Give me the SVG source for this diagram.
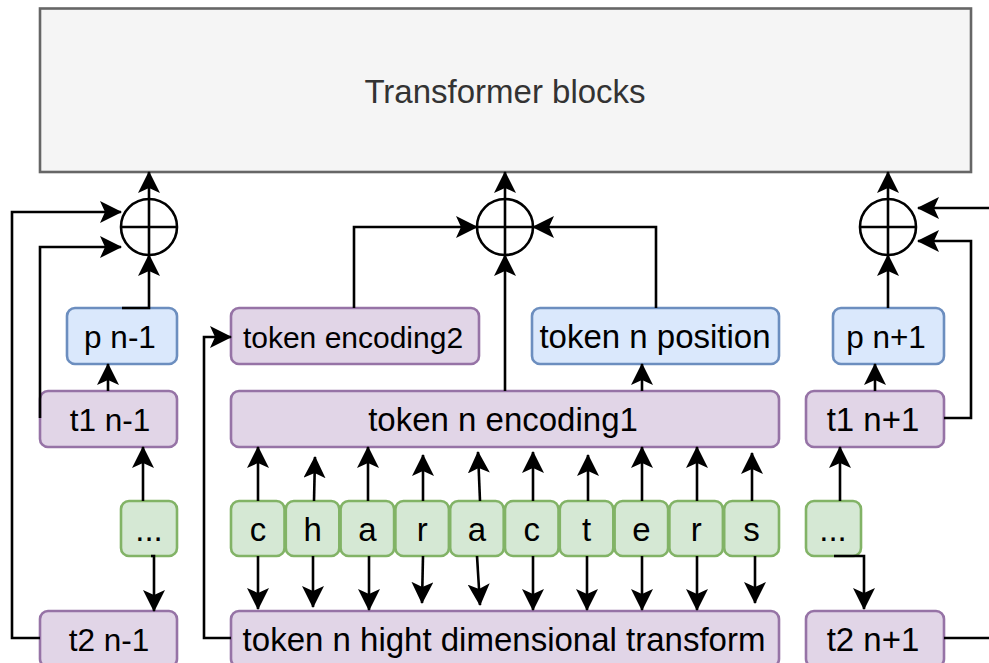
<svg xmlns="http://www.w3.org/2000/svg" width="989" height="663" viewBox="0 0 989 663">
  <defs>
    <marker id="ah" viewBox="0 0 22 22" refX="21" refY="11" markerWidth="22" markerHeight="22" markerUnits="userSpaceOnUse" orient="auto">
      <path d="M22,11 L0,0 L5,11 L0,22 Z" fill="#000"/>
    </marker>
    <style>
      text { font-family: "Liberation Sans", Arial, Helvetica, sans-serif; font-size: 33px; text-anchor: middle; fill: #000; }
      .sm { font-size: 31.5px; }
      .xs { font-size: 30px; }
      .purple { fill: #e1d5e7; stroke: #9673a6; stroke-width: 2.6; }
      .blue { fill: #dae8fc; stroke: #6c8ebf; stroke-width: 2.6; }
      .green { fill: #d5e8d4; stroke: #82b366; stroke-width: 2.6; }
      .gray { fill: #f5f5f5; stroke: #666666; stroke-width: 2.6; }
      .sum { fill: #fff; stroke: #000; stroke-width: 2.6; }
      .edge { fill: none; stroke: #000; stroke-width: 2.6; }
      .arr { fill: none; stroke: #000; stroke-width: 2.6; marker-end: url(#ah); }
    </style>
  </defs>

  <!-- Transformer stack -->
  <g id="transformer">
    <rect class="gray" x="40" y="8.5" width="931" height="163.5"/>
    <text x="505" y="103" style="fill:#333333">Transformer blocks</text>
  </g>

  <!-- summation nodes -->
  <g id="sum-left">
    <circle class="sum" cx="149" cy="227" r="28"/>
    <path class="edge" d="M121,227 H177 M149,199 V255"/>
  </g>
  <g id="sum-center">
    <circle class="sum" cx="505" cy="227" r="28"/>
    <path class="edge" d="M477,227 H533 M505,199 V255"/>
  </g>
  <g id="sum-right">
    <circle class="sum" cx="888" cy="227" r="28"/>
    <path class="edge" d="M860,227 H916 M888,199 V255"/>
  </g>

  <!-- previous token column -->
  <g id="p-prev">
    <rect class="blue" x="67" y="308" width="110" height="56" rx="8"/>
    <text class="sm" x="120" y="348">p n-1</text>
  </g>
  <g id="t1-prev">
    <rect class="purple" x="40" y="391" width="137" height="56" rx="8"/>
    <text class="sm" x="110" y="431">t1 n-1</text>
  </g>
  <g id="dots-prev">
    <rect class="green" x="121" y="501" width="56" height="55" rx="8"/>
    <text x="149" y="541">...</text>
  </g>
  <g id="t2-prev">
    <rect class="purple" x="40" y="611" width="137" height="56" rx="8"/>
    <text class="sm" x="109" y="651">t2 n-1</text>
  </g>

  <!-- current token column -->
  <g id="token-encoding2">
    <rect class="purple" x="231" y="308" width="248" height="56" rx="8"/>
    <text class="xs" x="353" y="348">token encoding2</text>
  </g>
  <g id="token-position">
    <rect class="blue" x="532" y="308" width="247" height="56" rx="8"/>
    <text x="655" y="348">token n position</text>
  </g>
  <g id="token-encoding1">
    <rect class="purple" x="231" y="391" width="548" height="56" rx="8"/>
    <text x="503" y="431">token n encoding1</text>
  </g>
  <g id="char-c1">
    <rect class="green" x="231" y="501" width="53.5" height="55" rx="8"/>
    <text x="258" y="541">c</text>
  </g>
  <g id="char-h">
    <rect class="green" x="285.8" y="501" width="53.5" height="55" rx="8"/>
    <text x="312.6" y="541">h</text>
  </g>
  <g id="char-a1">
    <rect class="green" x="340.6" y="501" width="53.5" height="55" rx="8"/>
    <text x="367.4" y="541">a</text>
  </g>
  <g id="char-r1">
    <rect class="green" x="395.4" y="501" width="53.5" height="55" rx="8"/>
    <text x="422.2" y="541">r</text>
  </g>
  <g id="char-a2">
    <rect class="green" x="450.2" y="501" width="53.5" height="55" rx="8"/>
    <text x="477" y="541">a</text>
  </g>
  <g id="char-c2">
    <rect class="green" x="505" y="501" width="53.5" height="55" rx="8"/>
    <text x="531.8" y="541">c</text>
  </g>
  <g id="char-t">
    <rect class="green" x="559.8" y="501" width="53.5" height="55" rx="8"/>
    <text x="586.6" y="541">t</text>
  </g>
  <g id="char-e">
    <rect class="green" x="614.6" y="501" width="53.5" height="55" rx="8"/>
    <text x="641.4" y="541">e</text>
  </g>
  <g id="char-r2">
    <rect class="green" x="669.4" y="501" width="53.5" height="55" rx="8"/>
    <text x="696.2" y="541">r</text>
  </g>
  <g id="char-s">
    <rect class="green" x="724.2" y="501" width="54.8" height="55" rx="8"/>
    <text x="751.6" y="541">s</text>
  </g>
  <g id="token-transform">
    <rect class="purple" x="231" y="611" width="548" height="56" rx="8"/>
    <text x="504" y="651">token n hight dimensional transform</text>
  </g>

  <!-- next token column -->
  <g id="p-next">
    <rect class="blue" x="833" y="308" width="111" height="56" rx="8"/>
    <text class="sm" x="886" y="348">p n+1</text>
  </g>
  <g id="t1-next">
    <rect class="purple" x="806" y="391" width="138" height="56" rx="8"/>
    <text x="873" y="431">t1 n+1</text>
  </g>
  <g id="dots-next">
    <rect class="green" x="806" y="501" width="55" height="55" rx="8"/>
    <text x="833" y="541">...</text>
  </g>
  <g id="t2-next">
    <rect class="purple" x="806" y="611" width="138" height="56" rx="8"/>
    <text x="873" y="651">t2 n+1</text>
  </g>

  <!-- connectors -->
  <g id="connectors">
    <!-- sums into transformer -->
    <path class="arr" d="M149,199 V172"/>
    <path class="arr" d="M505,199 V172"/>
    <path class="arr" d="M888,199 V172"/>

    <!-- previous column -->
    <path class="arr" d="M122,308 H149 V255"/>
    <path class="arr" d="M108,391 V364"/>
    <path class="arr" d="M40,418 V247 H121"/>
    <path class="arr" d="M40,638 H12 V212 H121"/>
    <path class="arr" d="M143,501 V447"/>
    <path class="arr" d="M151,556 H154 V611"/>

    <!-- current column -->
    <path class="arr" d="M505,391 V255"/>
    <path class="arr" d="M354,308 V227 H477"/>
    <path class="arr" d="M656,308 V227 H533"/>
    <path class="arr" d="M642,391 V364"/>
    <path class="arr" d="M231,638 H204 V337 H231"/>

    <!-- characters up to encoding1 -->
    <path class="arr" d="M258,501 L258,447"/>
    <path class="arr" d="M314,501 L315,457"/>
    <path class="arr" d="M368,501 L368,447"/>
    <path class="arr" d="M423,501 L423,455"/>
    <path class="arr" d="M480,501 L478,452"/>
    <path class="arr" d="M533,501 L533,452"/>
    <path class="arr" d="M588,501 L588,455"/>
    <path class="arr" d="M642,501 L642,447"/>
    <path class="arr" d="M697,501 L697,447"/>
    <path class="arr" d="M752,501 L752,453"/>

    <!-- characters down to transform -->
    <path class="arr" d="M258,556 L258,609"/>
    <path class="arr" d="M313,556 L313,607"/>
    <path class="arr" d="M369,556 L369,610"/>
    <path class="arr" d="M423,556 L422,603"/>
    <path class="arr" d="M477,556 L480,605"/>
    <path class="arr" d="M533,556 L533,610"/>
    <path class="arr" d="M587,556 L587,610"/>
    <path class="arr" d="M642,556 L642,610"/>
    <path class="arr" d="M697,556 L697,610"/>
    <path class="arr" d="M755,556 L755,603"/>

    <!-- next column -->
    <path class="arr" d="M888,308 V255"/>
    <path class="arr" d="M875,391 V364"/>
    <path class="arr" d="M944,418 H971 V241 H918"/>
    <path class="arr" d="M989,208 H918"/>
    <path class="arr" d="M840,501 V447"/>
    <path class="arr" d="M834,556 H864 V609"/>
    <path class="edge" d="M944,638 H989"/>
  </g>
</svg>
